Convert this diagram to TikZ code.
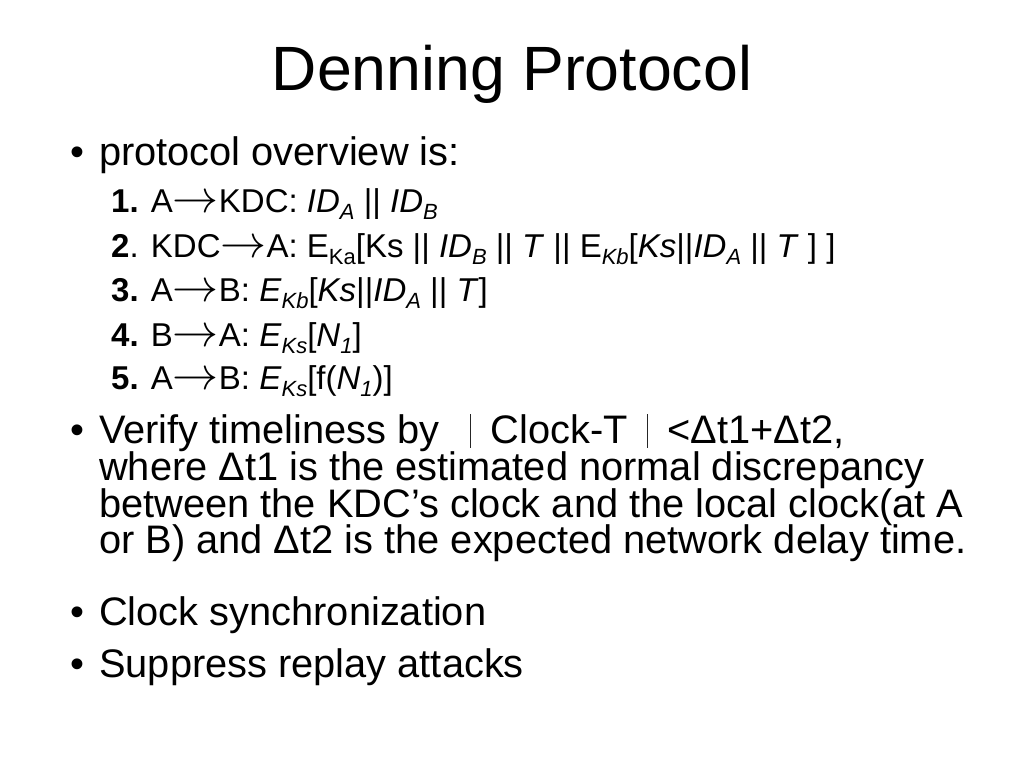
\documentclass[tikz,border=0pt]{standalone}
\usepackage{graphicx}
\usepackage{fontspec}
\setmainfont{Liberation Sans}
\newcommand{\sbs}[1]{\raisebox{-0.22em}{\fontsize{22}{22}\selectfont #1}}
\newcommand{\arr}{\smash{\raisebox{-0.8pt}{\scalebox{4.6}{\fontsize{10}{10}\selectfont$\rightarrow$}}}}
\newcommand{\fwbar}{\makebox[1em][c]{\color{black!85}\rule[-0.12em]{0.8pt}{0.86em}}}
\begin{document}
\begin{tikzpicture}[x=1pt,y=1pt,
  titletext/.style={anchor=base,inner sep=0pt,font=\fontsize{62.6}{62.6}\selectfont},
  bodytext/.style={anchor=base west,inner sep=0pt,font=\fontsize{39.8}{39.8}\selectfont},
  bul/.style={anchor=base west,inner sep=0pt,font=\fontsize{39.8}{39.8}\selectfont},
  steptext/.style={anchor=base west,inner sep=0pt,font=\fontsize{33}{33}\selectfont}]
\useasboundingbox[fill=white] (0,0) rectangle (1024,-768);
\node[titletext] (title) at (512,-90) {Denning Protocol};
\node[bul] (b1) at (70,-165) {•};
\node[bodytext] (l1) at (99,-165) {protocol overview is:};
\node[steptext] (s1) at (111,-212) {\textbf{1.} A\arr KDC: \textit{ID}\sbs{\textit{A}} || \textit{ID}\sbs{\textit{B}}};
\node[steptext] (s2) at (111,-257) {\textbf{2}. KDC\arr A: E\sbs{Ka}[Ks || \textit{ID}\sbs{\textit{B}} || \textit{T} || E\sbs{\textit{Kb}}[\textit{Ks}||\textit{ID}\sbs{\textit{A}} || \textit{T} ] ]};
\node[steptext] (s3) at (111,-301) {\textbf{3.} A\arr B: \textit{E}\sbs{\textit{Kb}}[\textit{Ks}||\textit{ID}\sbs{\textit{A}} || \textit{T}]};
\node[steptext] (s4) at (111,-346) {\textbf{4.} B\arr A: \textit{E}\sbs{\textit{Ks}}[\textit{N}\sbs{\textit{1}}]};
\node[steptext] (s5) at (111,-389) {\textbf{5.} A\arr B: \textit{E}\sbs{\textit{Ks}}[f(\textit{N}\sbs{\textit{1}})]};
\node[bul] (b2) at (70,-443) {•};
\node[bodytext] (l2a) at (99,-443) {Verify timeliness by \fwbar Clock-T\fwbar<Δt1+Δt2,};
\node[bodytext] (l2b) at (99,-480) {where Δt1 is the estimated normal discrepancy};
\node[bodytext] (l2c) at (99,-517) {between the KDC’s clock and the local clock(at A};
\node[bodytext] (l2d) at (99,-553) {or B) and Δt2 is the expected network delay time.};
\node[bul] (b3) at (70,-625) {•};
\node[bodytext] (l3) at (99,-625) {Clock synchronization};
\node[bul] (b4) at (70,-677) {•};
\node[bodytext] (l4) at (99,-677) {Suppress replay attacks};
\end{tikzpicture}
\end{document}
